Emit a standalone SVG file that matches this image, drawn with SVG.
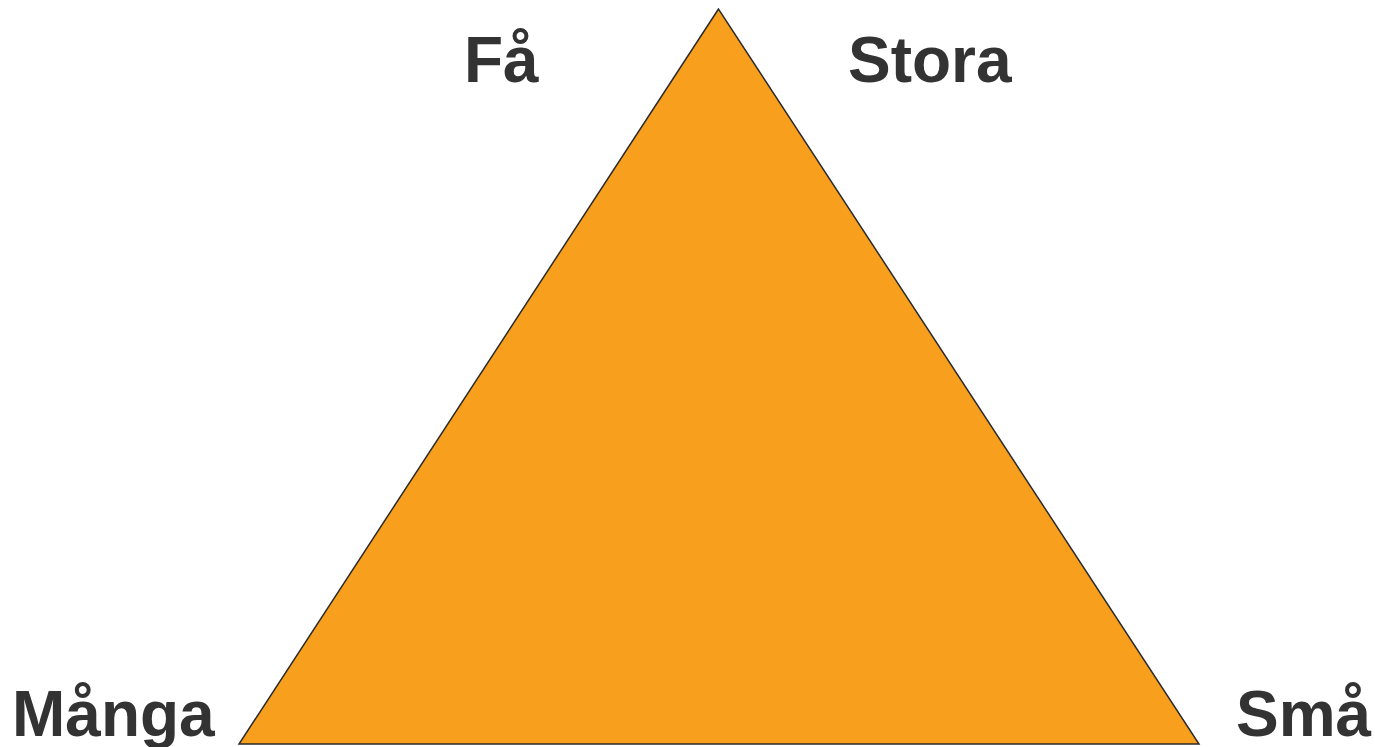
<svg xmlns="http://www.w3.org/2000/svg" width="1375" height="747" viewBox="0 0 1375 747">
<style>
.lbl{font-family:"Liberation Sans",Arial,sans-serif;font-weight:bold;font-size:64px;fill:#333333}
</style>
<rect width="1375" height="747" fill="#ffffff"/>
<g id="triangle">
<polygon points="718.5,9 239,744 1199,744" fill="#F99F1E" stroke="#2b2b2b" stroke-width="1.5" stroke-linejoin="miter"/>
</g>
<g id="label-fa"><text class="lbl" x="464" y="82">Få</text></g>
<g id="label-stora"><text class="lbl" x="848" y="82">Stora</text></g>
<g id="label-manga"><text class="lbl" x="12" y="736">Många</text></g>
<g id="label-sma"><text class="lbl" x="1236" y="736">Små</text></g>
<g id="connectors"/>
</svg>
